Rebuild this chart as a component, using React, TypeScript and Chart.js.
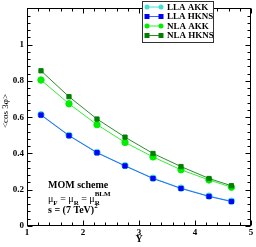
import React, { useEffect, useRef } from "react";
import { Chart, registerables } from "chart.js";

Chart.register(...registerables);

const rapidity = [1.25, 1.75, 2.25, 2.75, 3.25, 3.75, 4.25, 4.65];
const llaAkk = [0.614, 0.5, 0.406, 0.333, 0.264, 0.209, 0.165, 0.137];
const llaHkns = [0.612, 0.498, 0.404, 0.331, 0.262, 0.207, 0.163, 0.135];
const nlaAkk = [0.805, 0.674, 0.559, 0.461, 0.381, 0.31, 0.254, 0.214];
const nlaHkns = [0.856, 0.713, 0.59, 0.49, 0.4, 0.328, 0.262, 0.222];
const seriesNames = ["LLA AKK", "LLA HKNS", "NLA AKK", "NLA HKNS"];
const yTicks = [0, 0.2, 0.4, 0.6, 0.8, 1, 1.2];
const xTicks = [1, 2, 3, 4, 5];

const colors = ["#40e0d0", "#0000ff", "#00ee00", "#008000"];
const lineColors = ["#40e0d0", "#3366ff", "#33ee33", "#2e8b2e"];
const styles = ["circle", "rect", "circle", "rect"];
const SERIF = "'Liberation Serif', 'DejaVu Serif', serif";

const decor = {
  id: "decor",
  afterDraw(chart: any) {
    const ctx = chart.ctx as CanvasRenderingContext2D;
    const a = chart.chartArea;
    const xs = chart.scales.x;
    const ys = chart.scales.y;
    ctx.save();
    ctx.strokeStyle = "#000";
    ctx.lineWidth = 1;
    const L = Math.round(a.left) + 0.5, R = Math.round(a.right) - 0.5;
    const T = Math.round(a.top) + 0.5, B = Math.round(a.bottom) - 0.5;
    ctx.strokeRect(L, T, R - L, B - T);
    ctx.beginPath();
    for (let i = 0; i <= 20; i++) {
      const v = 1 + i * 0.2;
      const major = i % 5 === 0;
      const len = major ? 5 : 3;
      const px = Math.round(xs.getPixelForValue(v)) + 0.5;
      ctx.moveTo(px, B); ctx.lineTo(px, B - len);
      ctx.moveTo(px, T); ctx.lineTo(px, T + len);
    }
    for (let i = 0; i <= 30; i++) {
      const v = i * 0.04;
      const major = i % 5 === 0;
      const len = major ? 5 : 3;
      const py = Math.round(ys.getPixelForValue(v)) + 0.5;
      ctx.moveTo(L, py); ctx.lineTo(L + len, py);
      ctx.moveTo(R, py); ctx.lineTo(R - len, py);
    }
    ctx.stroke();

    // axis titles
    ctx.fillStyle = "#000";
    ctx.font = `bold 10px ${SERIF}`;
    ctx.textAlign = "center";
    ctx.textBaseline = "middle";
    ctx.fillText("Y", (a.left + a.right) / 2, 239);
    ctx.save();
    ctx.translate(6, 111);
    ctx.rotate(-Math.PI / 2);
    ctx.font = `9px ${SERIF}`;
    ctx.fillText("<cos 3\u03c6>", 0, 0);
    ctx.restore();

    // annotation
    ctx.textAlign = "left";
    ctx.textBaseline = "alphabetic";
    ctx.font = `bold 10px ${SERIF}`;
    ctx.fillText("MOM scheme", 48, 188);
    let x = 48;
    const put = (t: string, font: string, dy: number, base: number) => {
      ctx.font = font;
      ctx.fillText(t, x, base + dy);
      x += ctx.measureText(t).width;
    };
    const reg = `10px ${SERIF}`;
    const sub = `bold 7px ${SERIF}`;
    put("\u03bc", reg, 0, 202);
    put("F", sub, 3, 202);
    put(" = \u03bc", reg, 0, 202);
    put("R", sub, 3, 202);
    put(" = \u03bc", reg, 0, 202);
    const sx = x;
    put("R", sub, 3, 202);
    x = sx;
    put("BLM", sub, -6, 202);
    x = 48;
    put("s = (7 TeV)", `bold 10px ${SERIF}`, 0, 213);
    put("2", sub, -5, 213);

    // legend
    ctx.fillStyle = "#fff";
    ctx.fillRect(142.5, 1.5, 71, 41);
    ctx.strokeStyle = "#333";
    ctx.strokeRect(142.5, 1.5, 71, 41);
    ctx.font = `bold 9px ${SERIF}`;
    ctx.textBaseline = "middle";
    const rowsY = [7, 16.5, 26, 35.5];
    for (let i = 0; i < 4; i++) {
      const y = rowsY[i];
      ctx.strokeStyle = lineColors[i];
      ctx.lineWidth = 1;
      ctx.beginPath();
      ctx.moveTo(147, y); ctx.lineTo(161, y);
      ctx.stroke();
      ctx.fillStyle = colors[i];
      for (const mx of [147, 161]) {
        if (styles[i] === "circle") {
          ctx.beginPath(); ctx.arc(mx, y, 2.5, 0, Math.PI * 2); ctx.fill();
        } else {
          ctx.fillRect(mx - 2.5, y - 2.5, 5, 5);
        }
      }
      ctx.fillStyle = "#000";
      ctx.fillText(seriesNames[i], 167, y + 0.5);
    }
    ctx.restore();
  },
};

export default function App() {
  const ref = useRef<HTMLCanvasElement>(null);
  useEffect(() => {
    document.body.style.margin = "0";
    const series = [llaAkk, llaHkns, nlaAkk, nlaHkns];
    const chart = new Chart(ref.current!, {
      type: "line",
      data: {
        datasets: series.map((s, i) => ({
          label: seriesNames[i],
          data: s.map((v, j) => ({ x: rapidity[j], y: v })),
          borderColor: lineColors[i],
          backgroundColor: colors[i],
          pointBackgroundColor: colors[i],
          pointBorderColor: colors[i],
          pointStyle: styles[i] as any,
          pointRadius: styles[i] === "circle" ? 3.2 : 3,
          borderWidth: 1,
          tension: 0,
          order: 4 - i,
        })),
      },
      options: {
        animation: false,
        responsive: false,
        maintainAspectRatio: false,
        layout: { padding: { top: 1, right: 4, left: 0, bottom: 0 } },
        plugins: { legend: { display: false }, tooltip: { enabled: false } },
        scales: {
          x: {
            type: "linear",
            min: 1,
            max: 5,
            afterBuildTicks: (s: any) => { s.ticks = xTicks.map((v) => ({ value: v })); },
            ticks: {
              font: { family: SERIF, size: 9, weight: "bold" },
              color: "#000",
              padding: 1,
              maxRotation: 0,
              callback: (v: any) => String(v),
            },
            grid: { display: false, drawTicks: false },
            border: { display: false },
            afterFit: (s: any) => { s.height = 21; },
          },
          y: {
            type: "linear",
            min: 0,
            max: 1.2,
            afterBuildTicks: (s: any) => { s.ticks = yTicks.map((v) => ({ value: v })); },
            ticks: {
              font: { family: SERIF, size: 9, weight: "bold" },
              color: "#000",
              padding: 3,
              callback: (v: any) => (Math.abs(v - 1.2) < 1e-6 ? "" : String(+Number(v).toFixed(1))),
            },
            grid: { display: false, drawTicks: false },
            border: { display: false },
            afterFit: (s: any) => { s.width = 27; },
          },
        },
      },
      plugins: [decor],
    });
    return () => chart.destroy();
  }, []);
  return (
    <div style={{ width: 256, height: 247 }}>
      <canvas ref={ref} width={256} height={247} style={{ display: "block" }} />
    </div>
  );
}
